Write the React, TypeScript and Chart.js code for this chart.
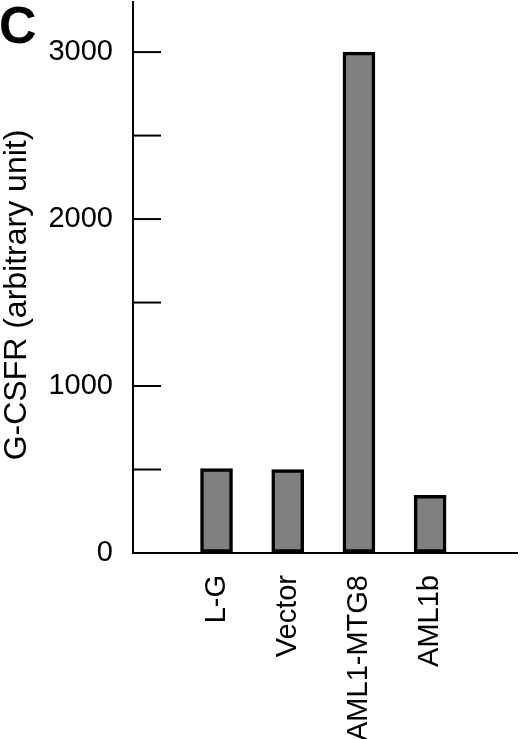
import { useEffect, useRef } from "react";
import { Chart, registerables } from "chart.js";

Chart.register(...registerables);

const categories = ["L-G", "Vector", "AML1-MTG8", "AML1b"];
const values = [505, 500, 3000, 345];
const yTicks = [0, 500, 1000, 1500, 2000, 2500, 3000];
const yLabels = ["0", "", "1000", "", "2000", "", "3000"];

const FONT = "'Liberation Sans', Arial, Helvetica, sans-serif";

// inner tick marks, panel letter and rotated axis title
const extras = {
  id: "extras",
  afterDraw(chart: Chart) {
    const { ctx, chartArea } = chart;
    const y = chart.scales.y;
    ctx.save();
    ctx.strokeStyle = "#000";
    ctx.lineWidth = 2;
    yTicks.forEach((v) => {
      const py = y.getPixelForValue(v);
      ctx.beginPath();
      ctx.moveTo(chartArea.left, py);
      ctx.lineTo(chartArea.left + 28, py);
      ctx.stroke();
    });
    ctx.fillStyle = "#000";
    ctx.font = `bold 52px ${FONT}`;
    ctx.textAlign = "left";
    ctx.textBaseline = "alphabetic";
    ctx.fillText("C", -1, 43);
    ctx.translate(17, 295);
    ctx.rotate(-Math.PI / 2);
    ctx.font = `32px ${FONT}`;
    ctx.textAlign = "center";
    ctx.textBaseline = "middle";
    ctx.fillText("G-CSFR (arbitrary unit)", 0, 0);
    ctx.restore();
  },
};

export default function App() {
  const chartRef = useRef<HTMLCanvasElement>(null);
  const chartInstance = useRef<Chart | null>(null);

  useEffect(() => {
    document.body.style.margin = "0";
    if (!chartRef.current) return;
    if (chartInstance.current) chartInstance.current.destroy();
    const ctx = chartRef.current.getContext("2d");
    if (!ctx) return;

    chartInstance.current = new Chart(ctx, {
      type: "bar",
      data: {
        datasets: [
          {
            data: values.map((v, i) => ({ x: i + 1, y: v })),
            backgroundColor: "#808080",
            borderColor: "#000",
            borderWidth: 3.5,
            borderSkipped: false,
            barThickness: 32,
          },
        ],
      },
      options: {
        animation: false,
        responsive: true,
        maintainAspectRatio: false,
        layout: { padding: { top: 2, right: 3, left: 0, bottom: 0 } },
        plugins: {
          legend: { display: false },
          tooltip: { enabled: false },
        },
        scales: {
          x: {
            type: "linear",
            offset: false,
            min: -0.173,
            max: 5.22,
            afterBuildTicks: (scale: any) => {
              scale.ticks = categories.map((_, i) => ({ value: i + 1 }));
            },
            afterFit: (scale: any) => {
              scale.height = 186;
              scale.paddingLeft = 0;
              scale.paddingRight = 0;
            },
            grid: { drawOnChartArea: false, drawTicks: false, offset: false },
            border: { color: "#000", width: 2 },
            ticks: {
              autoSkip: false,
              minRotation: 90,
              maxRotation: 90,
              padding: 22,
              color: "#000",
              font: { family: FONT, size: 29 },
              callback: (v: any) => categories[Number(v) - 1] ?? "",
            },
          },
          y: {
            min: 0,
            max: 3300,
            afterBuildTicks: (scale: any) => {
              scale.ticks = yTicks.map((v) => ({ value: v }));
            },
            afterFit: (scale: any) => {
              scale.width = 133;
              scale.paddingTop = 0;
              scale.paddingBottom = 0;
            },
            grid: { drawOnChartArea: false, drawTicks: false },
            border: { color: "#000", width: 2 },
            ticks: {
              autoSkip: false,
              padding: 20,
              color: "#000",
              font: { family: FONT, size: 29 },
              callback: (v: any) => yLabels[yTicks.indexOf(Number(v))] ?? "",
            },
          },
        },
      },
      plugins: [extras],
    });

    return () => {
      if (chartInstance.current) {
        chartInstance.current.destroy();
        chartInstance.current = null;
      }
    };
  }, []);

  return (
    <div style={{ width: 520, height: 739, position: "relative" }}>
      <canvas ref={chartRef} />
    </div>
  );
}
